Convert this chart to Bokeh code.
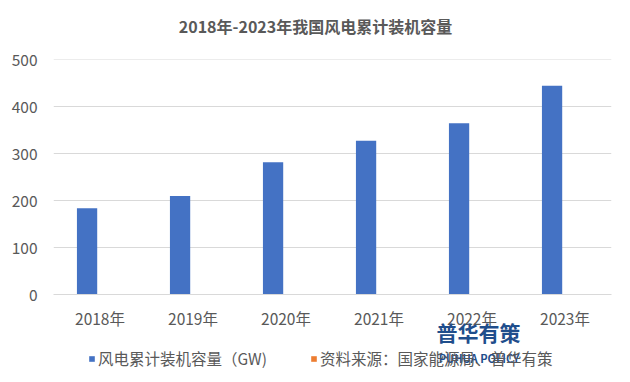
from bokeh.plotting import figure
from bokeh.layouts import column
from bokeh.models import ColumnDataSource, FactorRange, Range1d, Legend, LegendItem, Label
from bokeh.transform import dodge
from bokeh.core.properties import value
from bokeh.embed import file_html
from bokeh.resources import INLINE

years = ["2018年", "2019年", "2020年", "2021年", "2022年", "2023年"]
capacity = [184, 210, 282, 328, 365, 445]
y_ticks = [0, 100, 200, 300, 400, 500]
title_text = "2018年-2023年我国风电累计装机容量"
series_name = "风电累计装机容量（GW)"
source_name = "资料来源：国家能源局、普华有策"
series_color = "#4472C4"
source_color = "#ED7D31"
watermark_cn = "普华有策"
watermark_en = "PUHUA POLICY"

FONT = "Noto Sans CJK SC"
TXT = "#595959"
WM = "#1F4E8C"
NAN = float("nan")

# ---- main chart ----
p = figure(
    x_range=FactorRange(*years), y_range=Range1d(0, 501),
    frame_width=558, frame_height=235,
    min_border_left=53, min_border_right=17, min_border_top=59, min_border_bottom=52,
    output_backend="svg", toolbar_location=None,
    background_fill_color="white", border_fill_color="white",
)
p.outline_line_color = None

src = ColumnDataSource(dict(year=years, value=capacity))
p.vbar(x=dodge("year", -0.139, range=p.x_range), top="value", width=0.218,
       source=src, fill_color=series_color, line_color=None)

p.xgrid.grid_line_color = None
p.ygrid.grid_line_color = "#D9D9D9"
p.ygrid.grid_line_width = 1

p.yaxis.ticker = y_ticks
p.yaxis.axis_line_color = None
p.yaxis.major_tick_line_color = None
p.yaxis.minor_tick_line_color = None
p.yaxis.major_label_standoff = 10
p.yaxis.major_label_text_font = FONT
p.yaxis.major_label_text_font_size = "15.5px"
p.yaxis.major_label_text_color = TXT

p.xaxis.axis_line_color = "#D9D9D9"
p.xaxis.major_tick_line_color = None
p.xaxis.minor_tick_line_color = None
p.xaxis.major_label_standoff = 6
p.xaxis.major_label_text_font = FONT
p.xaxis.major_label_text_font_size = "15.5px"
p.xaxis.major_label_text_color = TXT

title = Label(x=2.817, y=571.8, text=title_text, text_align="center", text_baseline="middle",
              text_font=FONT, text_font_size="16px", text_font_style="bold", text_color=TXT)
p.add_layout(title, "above")

wm1 = Label(x=4.57, y=-80, text=watermark_cn, text_align="center", text_baseline="middle",
            text_font=FONT, text_font_size="21px", text_font_style="bold", text_color=WM)
p.add_layout(wm1, "above")

# ---- legend strip ----
q = figure(
    width=628, height=34, x_range=Range1d(53, 611), y_range=Range1d(0, 34),
    x_axis_type=None, y_axis_type=None, min_border=0,
    output_backend="svg", toolbar_location=None,
    background_fill_color="white", border_fill_color="white",
)
q.outline_line_color = None
q.grid.visible = False
k1 = q.vbar(x=[NAN], top=[NAN], width=1, fill_color=series_color, line_color=None)
k2 = q.vbar(x=[NAN], top=[NAN], width=1, fill_color=source_color, line_color=None)

legend = Legend(
    items=[LegendItem(label=value(series_name), renderers=[k1]),
           LegendItem(label=value(source_name), renderers=[k2])],
    orientation="horizontal", location=(35, 11),
    padding=0, margin=0, spacing=43, label_standoff=3,
    glyph_width=7, glyph_height=7,
    border_line_color=None, background_fill_alpha=0,
    label_text_font=FONT, label_text_font_size="15.5px", label_text_color=TXT,
)
q.add_layout(legend)

wm2 = Label(x=478.5, y=23, text=watermark_en, text_align="center", text_baseline="middle",
            text_font=FONT, text_font_size="11px", text_font_style="bold", text_color=WM)
q.add_layout(wm2)

layout = column(p, q, spacing=0)
open("out.html", "w").write(file_html(layout, INLINE))
